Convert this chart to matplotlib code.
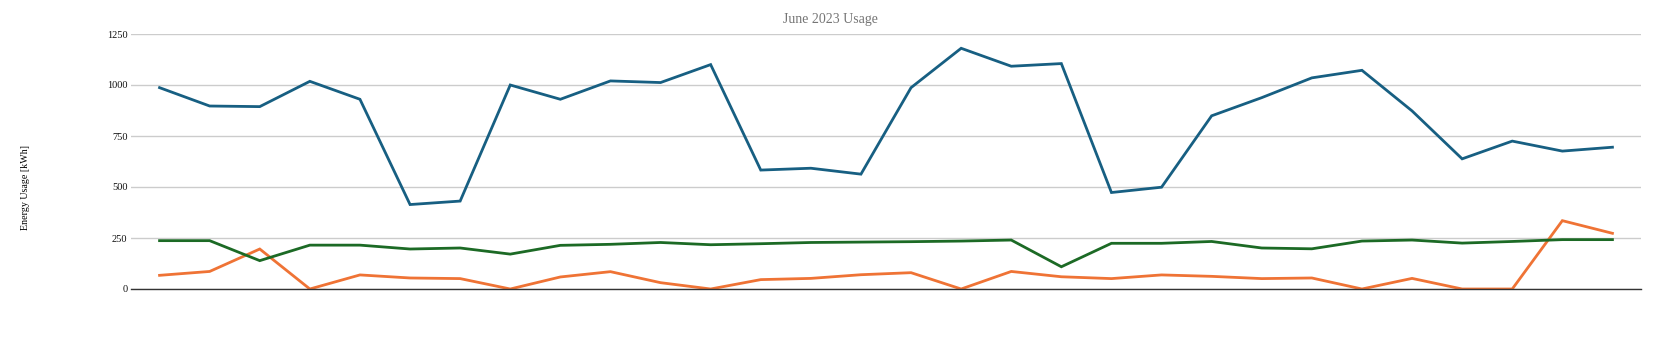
import matplotlib
matplotlib.use("Agg")
import matplotlib.pyplot as plt

days = list(range(1, 31))
series_blue = [987, 897, 894, 1018, 930, 414, 431, 1000, 930, 1020,
               1012, 1100, 583, 592, 563, 987, 1180, 1092, 1105, 473,
               499, 849, 938, 1035, 1072, 873, 638, 725, 676, 695]
series_green = [237, 237, 139, 215, 215, 196, 201, 171, 214, 219,
                228, 217, 222, 228, 230, 232, 235, 240, 109, 224,
                224, 233, 201, 197, 235, 240, 225, 233, 242, 242]
series_orange = [67, 86, 196, 0, 69, 54, 51, 0, 59, 85,
                 31, 0, 46, 52, 70, 80, 0, 86, 60, 51,
                 69, 62, 51, 54, 0, 52, 0, 0, 335, 273]
yticks = [0, 250, 500, 750, 1000, 1250]

fig = plt.figure(figsize=(16.57, 3.61), dpi=100)
ax = fig.add_axes([131/1657, 1-289/361, (1641-131)/1657, (289-34)/361])

x = list(range(len(days)))
ax.plot(x, series_blue, color='#175f82', lw=2.0, solid_joinstyle='miter', zorder=3)
ax.plot(x, series_orange, color='#ef7335', lw=2.0, solid_joinstyle='miter', zorder=3)
ax.plot(x, series_green, color='#1c6a25', lw=2.0, solid_joinstyle='miter', zorder=4)

ax.set_xlim(-0.57, 29.57)
ax.set_ylim(0, 1250)
ax.set_yticks(yticks)
ax.set_yticklabels([str(v) for v in yticks], fontsize=7.5, family='Liberation Serif', color='#111111')
ax.set_xticks([])
ax.tick_params(axis='y', length=0, pad=2.5)
ax.grid(axis='y', color='#cccccc', lw=1.0, zorder=0)
for s in ['top', 'right', 'left']:
    ax.spines[s].set_visible(False)
ax.spines['bottom'].set_color('#333333')
ax.spines['bottom'].set_linewidth(1.0)
ax.spines['bottom'].set_zorder(5)

fig.text(830/1657, 1-20/361, 'June 2023 Usage', ha='center', va='center',
         fontsize=10, color='#757575', family='Liberation Serif')
fig.text(26/1657, 1-188/361, 'Energy Usage [kWh]', ha='center', va='center',
         rotation=90, fontsize=7.2, color='#000000', family='Liberation Serif')

fig.savefig('out.png', dpi=100)
